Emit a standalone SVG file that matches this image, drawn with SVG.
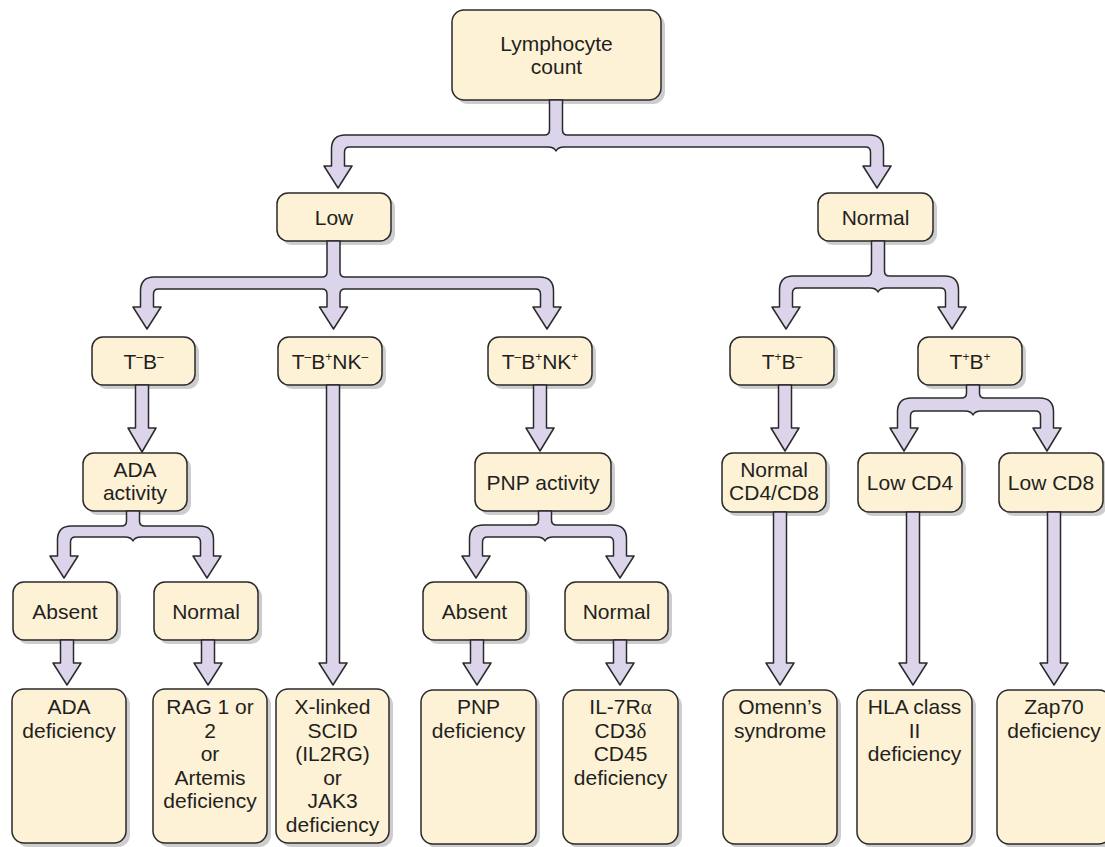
<svg xmlns="http://www.w3.org/2000/svg" width="1105" height="847" viewBox="0 0 1105 847">
<style>
.bg{fill:#ffffff}
.sh{fill:#cdcdcd}
.box{fill:#fef2d6;stroke:#2a2a2a;stroke-width:1.5}
.t{font-family:"Liberation Sans",Arial,sans-serif;font-size:21px;fill:#231f20;text-anchor:middle}
.sup{font-size:12px}
.gr{font-family:"Liberation Serif","Times New Roman",serif}
.c{fill:#dcd4ea;stroke:#2a2a2a;stroke-width:1.5;stroke-linejoin:round}
</style>
<rect class="bg" x="0" y="0" width="1105" height="847"/>
<g id="nodes">
<g id="n-lymph"><rect class="sh" x="456" y="14" width="209" height="90" rx="12"/><rect class="box" x="452" y="10" width="209" height="90" rx="12"/><text class="t" x="556.5" y="51">Lymphocyte</text><text class="t" x="556.5" y="74">count</text></g>
<g id="n-low"><rect class="sh" x="281" y="197" width="114" height="48" rx="11"/><rect class="box" x="277" y="193" width="114" height="48" rx="11"/><text class="t" x="334" y="224.5">Low</text></g>
<g id="n-normal"><rect class="sh" x="822" y="197" width="115" height="48" rx="11"/><rect class="box" x="818" y="193" width="115" height="48" rx="11"/><text class="t" x="875.5" y="224.5">Normal</text></g>
<g id="n-tmbm"><rect class="sh" x="96" y="341" width="103" height="48" rx="11"/><rect class="box" x="92" y="337" width="103" height="48" rx="11"/><text class="t" x="143.5" y="369">T<tspan class="sup" dy="-8">–</tspan><tspan dy="8">B</tspan><tspan class="sup" dy="-8">–</tspan></text></g>
<g id="n-tmbpnkm"><rect class="sh" x="282" y="341" width="104" height="48" rx="11"/><rect class="box" x="278" y="337" width="104" height="48" rx="11"/><text class="t" x="330" y="369">T<tspan class="sup" dy="-8">–</tspan><tspan dy="8">B</tspan><tspan class="sup" dy="-8">+</tspan><tspan dy="8">NK</tspan><tspan class="sup" dy="-8">–</tspan></text></g>
<g id="n-tmbpnkp"><rect class="sh" x="492" y="341" width="104" height="48" rx="11"/><rect class="box" x="488" y="337" width="104" height="48" rx="11"/><text class="t" x="540" y="369">T<tspan class="sup" dy="-8">–</tspan><tspan dy="8">B</tspan><tspan class="sup" dy="-8">+</tspan><tspan dy="8">NK</tspan><tspan class="sup" dy="-8">+</tspan></text></g>
<g id="n-tpbm"><rect class="sh" x="734" y="341" width="104" height="48" rx="11"/><rect class="box" x="730" y="337" width="104" height="48" rx="11"/><text class="t" x="782" y="369">T<tspan class="sup" dy="-8">+</tspan><tspan dy="8">B</tspan><tspan class="sup" dy="-8">–</tspan></text></g>
<g id="n-tpbp"><rect class="sh" x="922" y="341" width="104" height="48" rx="11"/><rect class="box" x="918" y="337" width="104" height="48" rx="11"/><text class="t" x="970" y="369">T<tspan class="sup" dy="-8">+</tspan><tspan dy="8">B</tspan><tspan class="sup" dy="-8">+</tspan></text></g>
<g id="n-ada"><rect class="sh" x="87" y="457" width="104" height="58" rx="11"/><rect class="box" x="83" y="453" width="104" height="58" rx="11"/><text class="t" x="135" y="477">ADA</text><text class="t" x="135" y="500">activity</text></g>
<g id="n-pnp"><rect class="sh" x="479" y="457" width="136" height="58" rx="11"/><rect class="box" x="475" y="453" width="136" height="58" rx="11"/><text class="t" x="543" y="489.5">PNP activity</text></g>
<g id="n-normcd"><rect class="sh" x="726" y="457" width="104" height="59" rx="11"/><rect class="box" x="722" y="453" width="104" height="59" rx="11"/><text class="t" x="774" y="477">Normal</text><text class="t" x="774" y="500">CD4/CD8</text></g>
<g id="n-lowcd4"><rect class="sh" x="862" y="457" width="104" height="59" rx="11"/><rect class="box" x="858" y="453" width="104" height="59" rx="11"/><text class="t" x="910" y="490">Low CD4</text></g>
<g id="n-lowcd8"><rect class="sh" x="1003" y="457" width="104" height="59" rx="11"/><rect class="box" x="999" y="453" width="104" height="59" rx="11"/><text class="t" x="1051" y="490">Low CD8</text></g>
<g id="n-absent1"><rect class="sh" x="17" y="586" width="104" height="58" rx="11"/><rect class="box" x="13" y="582" width="104" height="58" rx="11"/><text class="t" x="65" y="618.5">Absent</text></g>
<g id="n-normal1"><rect class="sh" x="158" y="586" width="104" height="58" rx="11"/><rect class="box" x="154" y="582" width="104" height="58" rx="11"/><text class="t" x="206" y="618.5">Normal</text></g>
<g id="n-absent2"><rect class="sh" x="427" y="586" width="103" height="58" rx="11"/><rect class="box" x="423" y="582" width="103" height="58" rx="11"/><text class="t" x="474.5" y="618.5">Absent</text></g>
<g id="n-normal2"><rect class="sh" x="569" y="586" width="103" height="58" rx="11"/><rect class="box" x="565" y="582" width="103" height="58" rx="11"/><text class="t" x="616.5" y="618.5">Normal</text></g>
<g id="n-adadef"><rect class="sh" x="16" y="693" width="114" height="154" rx="12"/><rect class="box" x="12" y="689" width="114" height="154" rx="12"/><text class="t" x="69" y="714">ADA</text><text class="t" x="69" y="737.5">deficiency</text></g>
<g id="n-rag"><rect class="sh" x="157" y="693" width="114" height="154" rx="12"/><rect class="box" x="153" y="689" width="114" height="154" rx="12"/><text class="t" x="210" y="714">RAG 1 or</text><text class="t" x="210" y="737.5">2</text><text class="t" x="210" y="761">or</text><text class="t" x="210" y="784.5">Artemis</text><text class="t" x="210" y="808">deficiency</text></g>
<g id="n-xscid"><rect class="sh" x="280" y="693" width="113" height="154" rx="12"/><rect class="box" x="276" y="689" width="113" height="154" rx="12"/><text class="t" x="332.5" y="714">X-linked</text><text class="t" x="332.5" y="737.5">SCID</text><text class="t" x="332.5" y="761">(IL2RG)</text><text class="t" x="332.5" y="784.5">or</text><text class="t" x="332.5" y="808">JAK3</text><text class="t" x="332.5" y="831.5">deficiency</text></g>
<g id="n-pnpdef"><rect class="sh" x="425" y="694" width="115" height="154" rx="12"/><rect class="box" x="421" y="690" width="115" height="154" rx="12"/><text class="t" x="478.5" y="714">PNP</text><text class="t" x="478.5" y="737.5">deficiency</text></g>
<g id="n-il7"><rect class="sh" x="567" y="694" width="115" height="154" rx="12"/><rect class="box" x="563" y="690" width="115" height="154" rx="12"/><text class="t" x="620.5" y="714">IL-7R<tspan class="gr">α</tspan></text><text class="t" x="620.5" y="737.5">CD3<tspan class="gr">δ</tspan></text><text class="t" x="620.5" y="761">CD45</text><text class="t" x="620.5" y="784.5">deficiency</text></g>
<g id="n-omenn"><rect class="sh" x="727" y="694" width="114" height="154" rx="12"/><rect class="box" x="723" y="690" width="114" height="154" rx="12"/><text class="t" x="780" y="714">Omenn’s</text><text class="t" x="780" y="737.5">syndrome</text></g>
<g id="n-hla"><rect class="sh" x="861" y="694" width="115" height="154" rx="12"/><rect class="box" x="857" y="690" width="115" height="154" rx="12"/><text class="t" x="914.5" y="714">HLA class</text><text class="t" x="914.5" y="737.5">II</text><text class="t" x="914.5" y="761">deficiency</text></g>
<g id="n-zap"><rect class="sh" x="1001" y="694" width="114" height="154" rx="12"/><rect class="box" x="997" y="690" width="114" height="154" rx="12"/><text class="t" x="1054" y="714">Zap70</text><text class="t" x="1054" y="737.5">deficiency</text></g>
</g>
<g id="connectors">
<path class="c" d="M549.5,100 L549.5,130 Q549.5,135 544.5,135 L345.5,135 Q331.5,135 331.5,149 L331.5,166 L324,166 L338,188 L352,166 L344.5,166 L344.5,152 Q344.5,147 349.5,147 L548,147 Q554,147 556,151 Q558,147 564,147 L865.5,147 Q870.5,147 870.5,152 L870.5,166 L863,166 L877,188 L891,166 L883.5,166 L883.5,149 Q883.5,135 869.5,135 L567.5,135 Q562.5,135 562.5,130 L562.5,100 Z"/>
<path class="c" d="M327,241 L327,272 Q327,277 322,277 L154.5,277 Q140.5,277 140.5,291 L140.5,307 L133,307 L147,329 L161,307 L153.5,307 L153.5,294 Q153.5,289 158.5,289 L322,289 Q327,289 327,294 L327,307 L319.5,307 L333.5,329 L347.5,307 L340,307 L340,294 Q340,289 345,289 L535.5,289 Q540.5,289 540.5,294 L540.5,307 L533,307 L547,329 L561,307 L553.5,307 L553.5,291 Q553.5,277 539.5,277 L345,277 Q340,277 340,272 L340,241 Z"/>
<path class="c" d="M871.5,241 L871.5,271 Q871.5,276 866.5,276 L793.5,276 Q779.5,276 779.5,290 L779.5,307 L772,307 L786,329 L800,307 L792.5,307 L792.5,293 Q792.5,288 797.5,288 L870,288 Q876,288 878,292 Q880,288 886,288 L940.5,288 Q945.5,288 945.5,293 L945.5,307 L938,307 L952,329 L966,307 L958.5,307 L958.5,290 Q958.5,276 944.5,276 L889.5,276 Q884.5,276 884.5,271 L884.5,241 Z"/>
<path class="c" d="M135.5,385 L135.5,428 L128,428 L142,452 L156,428 L148.5,428 L148.5,385 Z"/>
<path class="c" d="M126.5,511 L126.5,521 Q126.5,526 121.5,526 L71.5,526 Q57.5,526 57.5,540 L57.5,556 L50,556 L64,578 L78,556 L70.5,556 L70.5,542 Q70.5,537 75.5,537 L125,537 Q131,537 133,541 Q135,537 141,537 L195.5,537 Q200.5,537 200.5,542 L200.5,556 L193,556 L207,578 L221,556 L213.5,556 L213.5,540 Q213.5,526 199.5,526 L144.5,526 Q139.5,526 139.5,521 L139.5,511 Z"/>
<path class="c" d="M60.5,640 L60.5,663 L53,663 L67,685 L81,663 L73.5,663 L73.5,640 Z"/>
<path class="c" d="M201.5,640 L201.5,663 L194,663 L208,685 L222,663 L214.5,663 L214.5,640 Z"/>
<path class="c" d="M326.5,385 L326.5,663 L319,663 L333,685 L347,663 L339.5,663 L339.5,385 Z"/>
<path class="c" d="M533.5,385 L533.5,428 L526,428 L540,451 L554,428 L546.5,428 L546.5,385 Z"/>
<path class="c" d="M538.5,511 L538.5,520 Q538.5,525 533.5,525 L483.5,525 Q469.5,525 469.5,539 L469.5,556 L462,556 L476,578 L490,556 L482.5,556 L482.5,542 Q482.5,537 487.5,537 L537,537 Q543,537 545,541 Q547,537 553,537 L608.5,537 Q613.5,537 613.5,542 L613.5,556 L606,556 L620,578 L634,556 L626.5,556 L626.5,539 Q626.5,525 612.5,525 L556.5,525 Q551.5,525 551.5,520 L551.5,511 Z"/>
<path class="c" d="M470.5,640 L470.5,663 L463,663 L477,685 L491,663 L483.5,663 L483.5,640 Z"/>
<path class="c" d="M613.5,640 L613.5,663 L606,663 L620,685 L634,663 L626.5,663 L626.5,640 Z"/>
<path class="c" d="M778.5,385 L778.5,428 L771,428 L785,451 L799,428 L791.5,428 L791.5,385 Z"/>
<path class="c" d="M966.5,385 L966.5,393 Q966.5,398 961.5,398 L911.5,398 Q897.5,398 897.5,412 L897.5,428 L890,428 L904,451 L918,428 L910.5,428 L910.5,416 Q910.5,411 915.5,411 L965,411 Q971,411 973,415 Q975,411 981,411 L1035.5,411 Q1040.5,411 1040.5,416 L1040.5,428 L1033,428 L1047,451 L1061,428 L1053.5,428 L1053.5,412 Q1053.5,398 1039.5,398 L984.5,398 Q979.5,398 979.5,393 L979.5,385 Z"/>
<path class="c" d="M773.5,512 L773.5,663 L766,663 L780,685 L794,663 L786.5,663 L786.5,512 Z"/>
<path class="c" d="M906.5,512 L906.5,663 L899,663 L913,685 L927,663 L919.5,663 L919.5,512 Z"/>
<path class="c" d="M1047.5,512 L1047.5,663 L1040,663 L1054,685 L1068,663 L1060.5,663 L1060.5,512 Z"/>
</g>
</svg>
